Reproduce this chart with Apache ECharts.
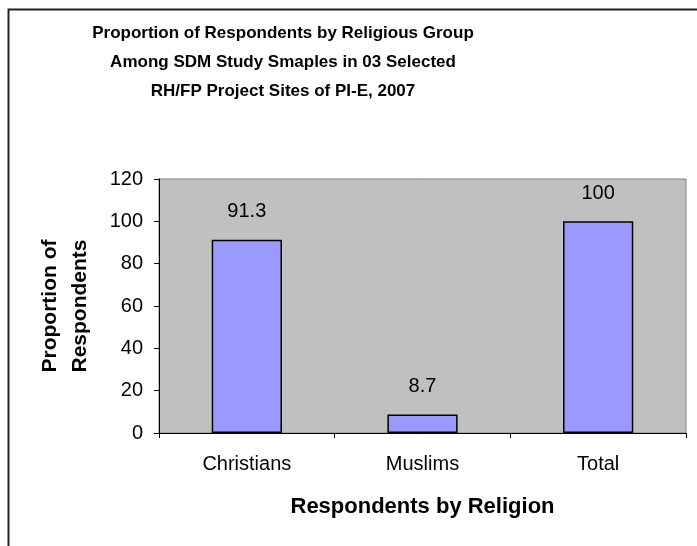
<!DOCTYPE html>
<html>
<head>
<meta charset="utf-8">
<script src="https://cdn.jsdelivr.net/npm/echarts@6/dist/echarts.min.js"></script>
<style>
html, body { margin: 0; padding: 0; background: #fff; }
#chart { width: 697px; height: 546px; }
</style>
</head>
<body>
<div id="chart"></div>
<script>
var categories = ['Christians', 'Muslims', 'Total'];
var proportions = [91.3, 8.7, 100];
var yTicks = [0, 20, 40, 60, 80, 100, 120];

var myChart = echarts.init(document.getElementById('chart'));
var option = {
    animation: false,
    backgroundColor: '#ffffff',
    textStyle: { fontFamily: 'Liberation Sans, Arial, sans-serif' },
    title: {
        text: 'Proportion of Respondents by Religious Group\nAmong SDM Study Smaples in 03 Selected\nRH/FP Project Sites of PI-E, 2007',
        left: 278,
        top: 14,
        textAlign: 'center',
        textStyle: {
            color: '#000',
            fontSize: 17,
            fontWeight: 'bold',
            lineHeight: 29
        }
    },
    graphic: [{
        type: 'rect',
        shape: { x: 8.5, y: 9.5, width: 900, height: 900 },
        style: { fill: 'none', stroke: '#222', lineWidth: 2 },
        silent: true
    }],
    grid: {
        left: 159,
        top: 179,
        right: 11,
        bottom: 113,
        show: true,
        backgroundColor: '#c0c0c0',
        borderColor: '#808080',
        borderWidth: 1
    },
    xAxis: {
        type: 'category',
        data: categories,
        name: 'Respondents by Religion',
        nameLocation: 'middle',
        nameGap: 63,
        nameTextStyle: { color: '#000', fontSize: 22, fontWeight: 'bold' },
        axisLine: { lineStyle: { color: '#000', width: 1 } },
        axisTick: { show: true, alignWithLabel: false, length: 5, lineStyle: { color: '#000' } },
        axisLabel: { color: '#000', fontSize: 20, margin: 21 },
        splitLine: { show: false }
    },
    yAxis: {
        type: 'value',
        min: yTicks[0],
        max: yTicks[yTicks.length - 1],
        interval: 20,
        name: 'Proportion of\nRespondents',
        nameLocation: 'middle',
        nameRotate: 90,
        nameGap: 64,
        nameTextStyle: { color: '#000', fontSize: 21, fontWeight: 'bold', lineHeight: 30 },
        axisLine: { show: true, lineStyle: { color: '#000', width: 1 } },
        axisTick: { show: true, length: 5, lineStyle: { color: '#000' } },
        axisLabel: { color: '#000', fontSize: 20, margin: 16 },
        splitLine: { show: false }
    },
    series: [{
        type: 'bar',
        data: proportions,
        barWidth: '40%',
        itemStyle: {
            color: '#9999ff',
            borderColor: '#000',
            borderWidth: 1.5
        },
        label: {
            show: true,
            position: 'top',
            distance: 18,
            color: '#000',
            fontSize: 20
        }
    }]
};
myChart.setOption(option);

window.addEventListener('resize', function () {
    myChart.resize();
});
</script>
</body>
</html>
